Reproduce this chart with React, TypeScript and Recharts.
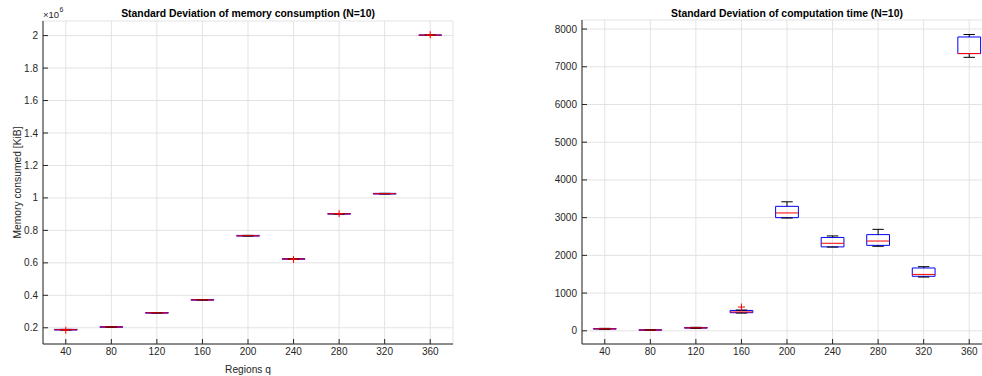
import React from "react";
import {
  ComposedChart,
  XAxis,
  YAxis,
  CartesianGrid,
  ReferenceArea,
  ReferenceLine,
  Scatter,
} from "recharts";

const regions = [40, 80, 120, 160, 200, 240, 280, 320, 360];

// std deviation of memory consumption [KiB]
const memLow = [186000, 203000, 290000, 370000, 765000, 622000, 900000, 1024000, 2002000];
const memQ1 = [186000, 203000, 290000, 370000, 765000, 622000, 900000, 1024000, 2002000];
const memMed = [188000, 205000, 292000, 372000, 767000, 624000, 902000, 1026000, 2003000];
const memQ3 = [190000, 207000, 294000, 374000, 769000, 626000, 904000, 1028000, 2004000];
const memHigh = [190000, 207000, 294000, 374000, 769000, 626000, 904000, 1028000, 2004000];
const memOutliers = [
  { x: 40, y: 185000 },
  { x: 240, y: 621000 },
  { x: 280, y: 903000 },
  { x: 360, y: 2005000 },
];
const memTicks = [200000, 400000, 600000, 800000, 1000000, 1200000, 1400000, 1600000, 1800000, 2000000];

// std deviation of computation time
const timeLow = [40, 12, 65, 470, 2990, 2220, 2240, 1425, 7250];
const timeQ1 = [45, 15, 70, 480, 3000, 2225, 2265, 1445, 7350];
const timeMed = [52, 20, 78, 500, 3125, 2320, 2380, 1495, 7350];
const timeQ3 = [60, 28, 88, 540, 3300, 2475, 2550, 1665, 7790];
const timeHigh = [65, 30, 92, 550, 3420, 2515, 2690, 1700, 7855];
const timeOutliers = [{ x: 160, y: 630 }];
const timeTicks = [0, 1000, 2000, 3000, 4000, 5000, 6000, 7000, 8000];

const AX = "#262626";
const FONT = "'Liberation Sans', Arial, sans-serif";

function Plus(props: any) {
  const { cx, cy } = props;
  if (cx == null || cy == null) return null;
  return (
    <g>
      <line x1={cx - 3.5} x2={cx + 3.5} y1={cy} y2={cy} stroke="#ff0000" strokeWidth={1} />
      <line x1={cx} x2={cx} y1={cy - 3.5} y2={cy + 3.5} stroke="#ff0000" strokeWidth={1} />
    </g>
  );
}

function boxes(low: number[], q1: number[], med: number[], q3: number[], high: number[], key: string) {
  const hw = 10;
  const cw = 5;
  const out: any[] = [];
  regions.forEach((x, i) => {
    out.push(
      <ReferenceLine key={key + "wu" + i} segment={[{ x, y: q3[i] }, { x, y: high[i] }]} stroke="#000" strokeWidth={1} />,
      <ReferenceLine key={key + "wl" + i} segment={[{ x, y: low[i] }, { x, y: q1[i] }]} stroke="#000" strokeWidth={1} />,
      <ReferenceLine key={key + "cu" + i} segment={[{ x: x - cw, y: high[i] }, { x: x + cw, y: high[i] }]} stroke="#000" strokeWidth={1} />,
      <ReferenceLine key={key + "cl" + i} segment={[{ x: x - cw, y: low[i] }, { x: x + cw, y: low[i] }]} stroke="#000" strokeWidth={1} />,
      <ReferenceArea key={key + "b" + i} x1={x - hw} x2={x + hw} y1={q1[i]} y2={q3[i]} fill="none" stroke="#0000ff" strokeWidth={1} fillOpacity={0} strokeOpacity={1} />,
      <ReferenceLine key={key + "m" + i} segment={[{ x: x - hw, y: med[i] }, { x: x + hw, y: med[i] }]} stroke="#ff0000" strokeWidth={1} />
    );
  });
  return out;
}

const tickStyle = { fill: AX, fontSize: 10, fontFamily: FONT };
const empty = () => "";

export default function App() {
  return (
    <div style={{ position: "absolute", left: 0, top: 0, width: 982, height: 376, overflow: "hidden", background: "#fff", fontFamily: FONT }}>
      {/* left panel */}
      <div style={{ position: "absolute", left: 43, top: 7, width: 410, textAlign: "center", fontSize: 10.4, fontWeight: "bold", lineHeight: "13px", color: "#000" }}>
        Standard Deviation of memory consumption (N=10)
      </div>
      <div style={{ position: "absolute", left: 43, top: 10, fontSize: 9.5, lineHeight: "10px", color: AX }}>×10</div>
      <div style={{ position: "absolute", left: 59.5, top: 6, fontSize: 7, lineHeight: "8px", color: AX }}>6</div>
      <div style={{ position: "absolute", left: 0, top: 0 }}>
        <ComposedChart width={460} height={376} margin={{ top: 21, right: 7, bottom: 0, left: 8 }}>
          <CartesianGrid stroke="#e3e3e3" />
          <XAxis
            dataKey="x"
            type="number"
            domain={[20, 380]}
            ticks={regions}
            height={32}
            stroke={AX}
            tick={tickStyle}
            tickSize={-5}
            tickMargin={9}
            label={{ value: "Regions q", position: "insideBottom", offset: 3, fill: AX, fontSize: 10.2, fontFamily: FONT }}
          />
          <XAxis xAxisId="t" orientation="top" type="number" domain={[20, 380]} ticks={regions} height={0} stroke={AX} tickSize={-5} tickFormatter={empty} />
          <YAxis
            type="number"
            domain={[100000, 2090000]}
            ticks={memTicks}
            width={35}
            stroke={AX}
            tick={tickStyle}
            tickSize={-5}
            tickMargin={10}
            tickFormatter={(v: number) => String(v / 1000000)}
            label={{ value: "Memory consumed [KiB]", angle: -90, position: "insideLeft", offset: 9, fill: AX, fontSize: 10.3, fontFamily: FONT, style: { textAnchor: "middle" } }}
          />
          <YAxis yAxisId="r" orientation="right" type="number" domain={[100000, 2090000]} ticks={memTicks} width={0} stroke={AX} tickSize={-5} tickFormatter={empty} />
          {boxes(memLow, memQ1, memMed, memQ3, memHigh, "mem")}
          <Scatter data={memOutliers} dataKey="y" shape={(p: any) => <Plus {...p} />} isAnimationActive={false} />
        </ComposedChart>
      </div>

      {/* right panel */}
      <div style={{ position: "absolute", left: 582, top: 7, width: 410, textAlign: "center", fontSize: 10.4, fontWeight: "bold", lineHeight: "13px", color: "#000" }}>
        Standard Deviation of computation time (N=10)
      </div>
      <div style={{ position: "absolute", left: 520, top: 0 }}>
        <ComposedChart width={480} height={376} margin={{ top: 20, right: 8, bottom: 0, left: 22 }}>
          <CartesianGrid stroke="#e3e3e3" />
          <XAxis dataKey="x" type="number" domain={[20, 380]} ticks={regions} height={32} stroke={AX} tick={tickStyle} tickSize={-5} tickMargin={9} />
          <XAxis xAxisId="t" orientation="top" type="number" domain={[20, 380]} ticks={regions} height={0} stroke={AX} tickSize={-5} tickFormatter={empty} />
          <YAxis type="number" domain={[-350, 8240]} ticks={timeTicks} width={40} stroke={AX} tick={tickStyle} tickSize={-5} tickMargin={10} />
          <YAxis yAxisId="r" orientation="right" type="number" domain={[-350, 8240]} ticks={timeTicks} width={0} stroke={AX} tickSize={-5} tickFormatter={empty} />
          {boxes(timeLow, timeQ1, timeMed, timeQ3, timeHigh, "time")}
          <Scatter data={timeOutliers} dataKey="y" shape={(p: any) => <Plus {...p} />} isAnimationActive={false} />
        </ComposedChart>
      </div>
    </div>
  );
}
